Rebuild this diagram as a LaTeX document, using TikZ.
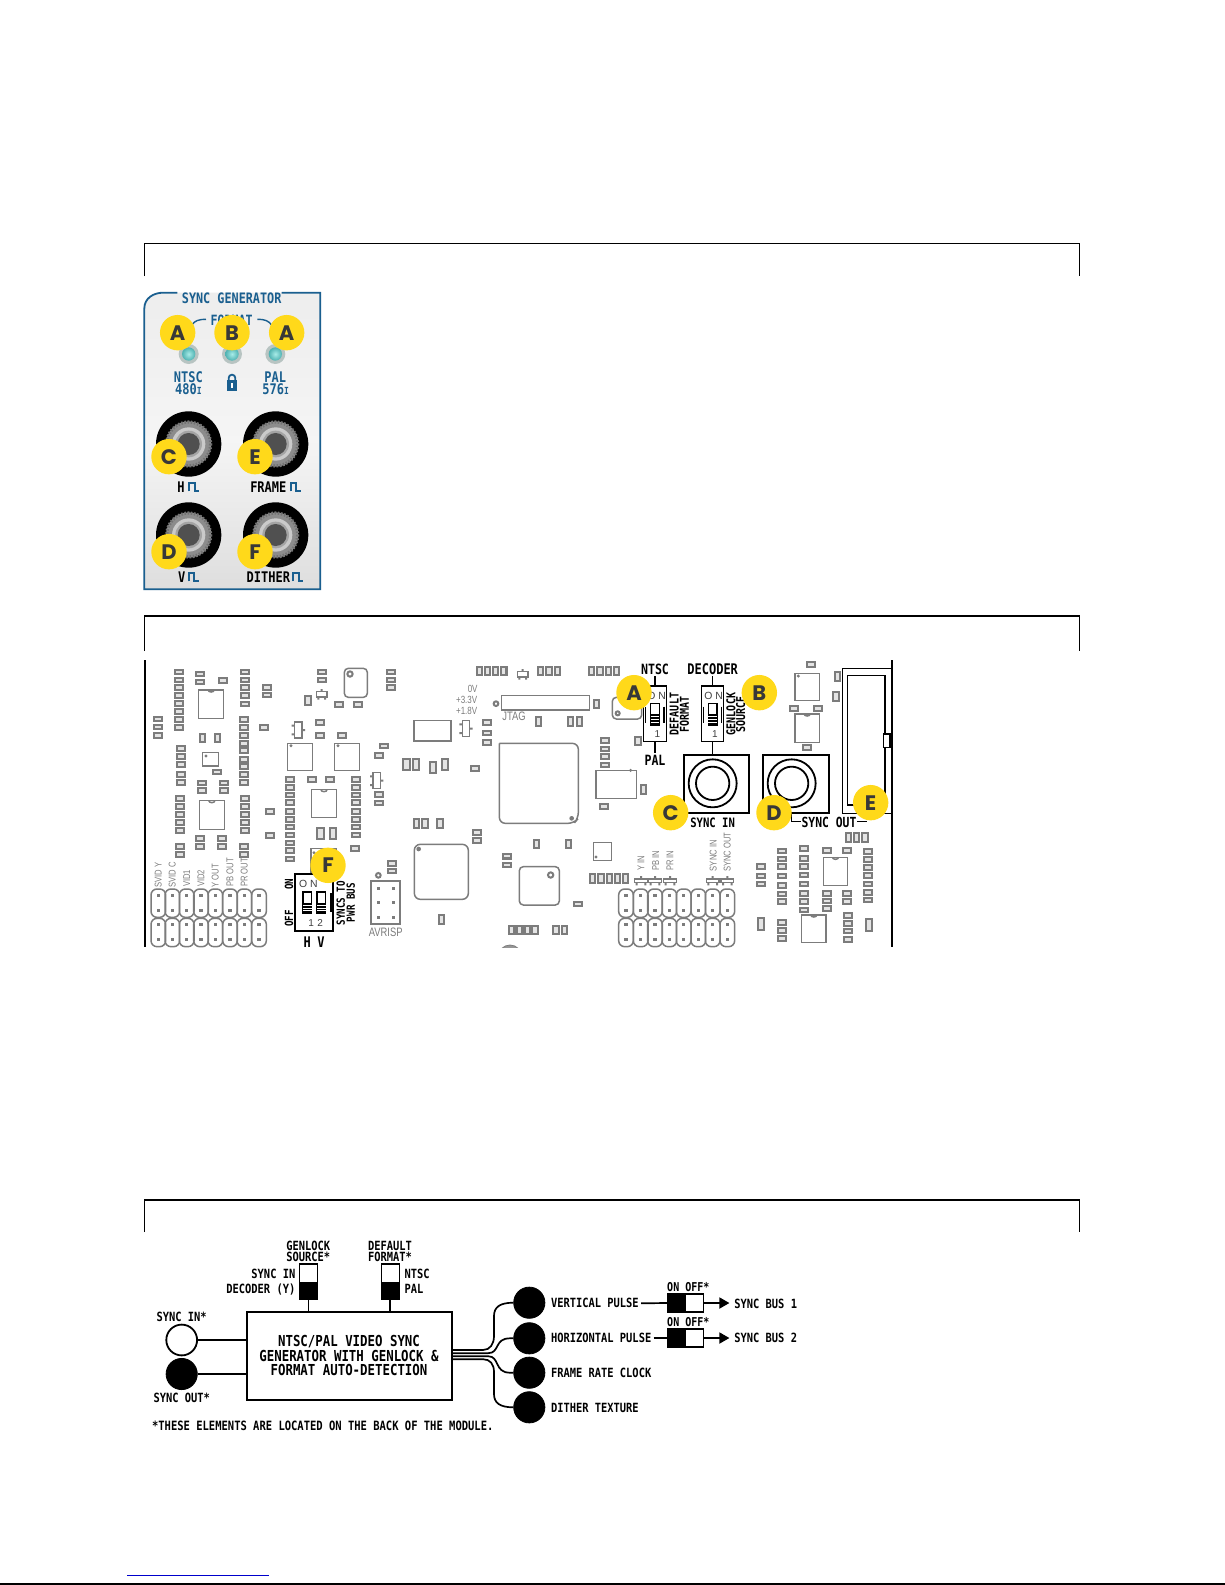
\documentclass[tikz,border=0pt]{standalone}
\usepackage{graphicx}
\usepackage{fontspec}
\setmonofont{DejaVu Sans Mono}
\setsansfont{Liberation Sans}
\newfontfamily\badgef{Poppins}
\usetikzlibrary{arrows.meta,shapes.geometric}
\definecolor{pcb}{HTML}{7C7C7C}
\definecolor{padfill}{HTML}{E4E4E4}
\definecolor{yel}{HTML}{FFD91A}
\definecolor{pblue}{HTML}{1A5F8F}
\newcommand\T[2]{\fontsize{#1pt}{#1pt}\selectfont\ttfamily\bfseries\scalebox{1}[1.22]{#2}}
\newcommand\G[2]{\fontsize{#1pt}{#1pt}\selectfont\sffamily\scalebox{1}[1.3]{#2}}
\newcommand\K[2]{\fontsize{#1pt}{#1pt}\selectfont\sffamily #2}
\newcommand\padsH[2]{\foreach \yy in {#2}{\draw[pad] (#1-12,\yy-7) rectangle (#1+12,\yy+7);}}
\newcommand\padsV[2]{\foreach \xx in {#1}{\draw[pad] (\xx-8,#2-13) rectangle (\xx+8,#2+13);}}
\newcommand\bigV[2]{\draw[pad] (#1-10,#2-17) rectangle (#1+10,#2+17);}
\newcommand\ic[4]{\draw[part] (#1,#2) rectangle (#3,#4);}
\newcommand\icN[4]{\draw[part] (#1,#2) rectangle (#3,#4); \draw[part] ({(#1+#3)/2-9},#2) arc (180:0:9 and 6);}
\newcommand\icD[6]{\draw[part] (#1,#2) rectangle (#3,#4); \fill[pcb] (#5,#6) circle (5);}
\newcommand\trs[2]{\draw[part,fill=white] (#1-16,#2-8) rectangle (#1+16,#2+8);
  \fill[pcb] (#1-3,#2-16) rectangle (#1+3,#2-8) (#1-13,#2+8) rectangle (#1-7,#2+16) (#1+7,#2+8) rectangle (#1+13,#2+16);}
\newcommand\trv[3]{\draw[part,fill=white] (#1-11,#2-24) rectangle (#1+11,#2+24);
  \fill[pcb] (#1+#3*11,#2-3) rectangle (#1+#3*20,#2+3) (#1-#3*11,#2-16) rectangle (#1-#3*20,#2-10) (#1-#3*11,#2+10) rectangle (#1-#3*20,#2+16);}
\newcommand\hdr[1]{\foreach \hx in {#1}{
  \draw[part,rounded corners=3pt] (\hx-22,837) rectangle (\hx+22,922);
  \draw[part,rounded corners=3pt] (\hx-22,925) rectangle (\hx+22,1010);
  \foreach \hy in {857,901,943,988}{\fill[pcb] (\hx-5,\hy-5) rectangle (\hx+5,\hy+5);}}}
\newcommand\dip[3]{% x, ytop, one toggle
  \draw[bk,fill=white] (#1-13,#2) rectangle (#1+13,#2+65);
  \fill[black] (#1-13,#2+32) rectangle (#1+13,#2+65);
  \foreach \s in {1,2,3}{\draw[white,line width=.3pt] (#1-13,#2+32+\s*8) -- (#1+13,#2+32+\s*8);}}
\newcommand\jack[2]{\fill[black] (#1,#2) circle (98);
  \fill[nutgray] (#1,#2) circle (68);
  \draw[nutdark,line width=1.6pt,dash pattern=on .8pt off .8pt] (#1,#2) circle (66);
  \fill[ringgray] (#1,#2) circle (50);
  \fill[midgray] (#1,#2) circle (40);
  \fill[coregray] (#1,#2) circle (33);}
\definecolor{nutgray}{HTML}{8C8C8C}
\definecolor{nutdark}{HTML}{727272}
\definecolor{ringgray}{HTML}{CACACA}
\definecolor{midgray}{HTML}{A4A4A4}
\definecolor{coregray}{HTML}{505050}
\definecolor{ledring}{HTML}{B8C4C2}
\definecolor{ledin}{HTML}{A8ECE8}
\definecolor{ledout}{HTML}{4FB2B2}
\newcommand\led[2]{\fill[ledring] (#1,#2) circle (30);
  \shade[inner color=ledin,outer color=ledout] (#1,#2) circle (20);}
\newcommand\pulse[2]{\draw[pblue,line width=1pt] (#1,#2+14) -- (#1,#2-12) -- (#1+16,#2-12) -- (#1+16,#2+14) -- (#1+30,#2+14);}
\tikzset{
  x=.5pt,y=-.5pt,
  pad/.style={draw=pcb,fill=padfill,line width=1pt},
  part/.style={draw=pcb,line width=.75pt},
  bk/.style={draw=black,line width=.7pt},
  badge/.style={circle,fill=yel,minimum size=17.7pt,inner sep=0pt,text=black!78,font=\badgef\bfseries\fontsize{10.5pt}{10.5pt}\selectfont},
  lbl/.style={inner sep=0pt},
  frameline/.style={draw=black,line width=.7pt},
  wire/.style={draw=black,line width=.85pt},
  blk/.style={circle,fill=black,draw=black,minimum size=15.6pt,inner sep=0pt},
  sw/.style={draw=black,line width=.8pt,fill=white,inner sep=0pt},
}
\begin{document}
\begin{tikzpicture}
\useasboundingbox (0,0) rectangle (1225,1585);
\fill[white] (0,0) rectangle (1225,1585);
% section frames
\draw[frameline] (144.5,276) -- (144.5,243.5) -- (1079.5,243.5) -- (1079.5,276);
\draw[frameline] (144.5,651) -- (144.5,616) -- (1079.5,616) -- (1079.5,651);
\draw[frameline] (144.5,1232) -- (144.5,1200) -- (1079.5,1200) -- (1079.5,1232);
% footer
\draw[draw={rgb,255:red,0;green,0;blue,204},line width=.6pt] (127,1575.5) -- (268.7,1575.5);
\draw[black,line width=1pt] (0,1584.2) -- (1225,1584.2);

%=================== front panel
\begin{scope}[shift={(130,230)},scale=1/3]
\shade[top color=black!7,bottom color=black!13,middle color=black!4] (43,1078) -- (43,235) .. controls (43,205) and (70,188) .. (100,188) -- (571,188) -- (571,1078) -- cycle;
\draw[pblue,line width=.9pt] (455,188) -- (571,188) -- (571,1078) -- (43,1078) -- (43,235) .. controls (43,205) and (70,188) .. (100,188) -- (142,188);
\node[lbl,text=pblue] (ptitle) at (305,205) {\T{5.9}{SYNC GENERATOR}};
\node[lbl,text=pblue] (pformat) at (305,272) {\T{5.8}{FORMAT}};
\draw[pblue,line width=.7pt] (185,285) .. controls (195,272) and (205,268) .. (228,268);
\draw[pblue,line width=.7pt] (382,268) .. controls (405,268) and (415,272) .. (425,285);
\led{176}{372}\led{306}{372}\led{436}{372}
\node[lbl,text=pblue] (pntsc) at (175,440) {\T{6}{NTSC}};
\node[lbl,text=pblue] (p480) at (175,478) {\T{6}{480\fontsize{4pt}{4pt}\selectfont I}};
\node[lbl,text=pblue] (ppal) at (436,440) {\T{6}{PAL}};
\node[lbl,text=pblue] (p576) at (437,478) {\T{6}{576\fontsize{4pt}{4pt}\selectfont I}};
\draw[pblue,line width=.9pt] (296,452) -- (296,444) arc (180:360:10) -- (316,452);
\fill[pblue] (290,450) rectangle (322,483);
\fill[white] (304,460) rectangle (308,474);
\jack{176}{642}\jack{437}{642}\jack{176}{915}\jack{437}{915}
\node[lbl] (ph) at (153,770) {\T{6}{H}};
\pulse{178}{770}
\node[lbl] (pframe) at (415,770) {\T{6}{FRAME}};
\pulse{483}{770}
\node[lbl] (pv) at (155,1040) {\T{6}{V}};
\pulse{176}{1040}
\node[lbl] (pdither) at (415,1040) {\T{6}{DITHER}};
\pulse{490}{1040}
\node[badge] (pa1) at (143,308) {A};
\node[badge] (pb) at (306,308) {B};
\node[badge] (pa2) at (470,308) {A};
\node[badge] (pc) at (117,680) {C};
\node[badge] (pe) at (375,680) {E};
\node[badge] (pd) at (117,965) {D};
\node[badge] (pf) at (375,965) {F};
\end{scope}

%=================== board
\begin{scope}
\clip (140,655) rectangle (900,947);
\draw[black,line width=1pt] (144.7,660) -- (144.7,947);
\draw[black,line width=1pt] (891.7,660) -- (891.7,947);
% left half, coordinates of crop 2
\begin{scope}[shift={(130,610)},scale=1/3]
\padsH{147}{186,210,233,257,280,304,328,352}
\padsH{209}{192,216}
\padsH{278}{211}
\padsH{346}{186,210,233,257,282}
\padsH{342}{328,352,377,400,422,448,470,494,518}
\padsH{410}{232,255}
\padsH{401}{353}
\padsH{83}{327,351,376}
\icN{206}{240}{281}{325}
\padsV{218,262}{384}
\padsH{152}{415,440,463,493,518}
\icD{218}{428}{266}{468}{228}{438}
\padsH{260}{486}
\padsH{215}{519,542}\padsH{281}{519,542}
\padsH{149}{565,590,613,638,662}
\icN{208}{572}{283}{658}
\padsH{344}{566,590,614,638,662}
\padsH{211}{686,710}\padsH{277}{686,710}
\padsH{150}{709,733}
\padsH{342}{709,733}
\padsH{419}{604}\padsH{421}{677}
\padsH{575}{186,210}
\trs{575}{253}
\padsV{534}{272}
\draw[part,rounded corners=2pt] (643,175) rectangle (712,262);
\draw[part,line width=1pt] (660,192) circle (8);
\padsH{628}{284}\padsH{685}{284}
\padsH{782}{186,210,233}
\padsH{569}{338,376}\padsH{637}{376}
\trv{505}{360}{1}
\icD{473}{400}{547}{482}{483}{407}
\icD{614}{400}{688}{482}{624}{407}
\padsH{761}{408}\padsH{747}{437}
\padsH{479}{508,532,555,578,604,628,651,675,699,722,747}
\padsH{546}{508}\padsH{601}{508}
\padsH{678}{508,532,555,578,604,628,651,675}
\icN{545}{539}{619}{622}
\bigV{572}{670}\bigV{609}{670}
\padsH{674}{716}
\trv{740}{512}{1}
\padsH{747}{554,579}
\ic{852}{332}{963}{393}
\trv{1008}{356}{1}
\padsH{1072}{338,369,398}
\bigV{829}{463}\bigV{858}{463}\bigV{909}{472}\bigV{945}{464}
\padsH{1035}{475}
\padsV{859,885,930}{640}
\padsH{1042}{667,691}
\draw[part,rounded corners=3pt] (853,703) rectangle (1015,868);
\fill[pcb] (866,717) circle (7);
\padsH{785}{760,783}
\draw[part,line width=1pt] (745,796) circle (7);
\draw[part,line width=1pt] (723,812) rectangle (811,943);
\foreach \ax in {745,790}{\foreach \ay in {835,878,922}{\fill[pcb] (\ax-5,\ay-5) rectangle (\ax+5,\ay+5);}}
\node[lbl,text=pcb] (avrisp) at (767,967) {\G{4.7}{AVRISP}};
\padsV{935}{928}
\padsH{1132}{739,765}
\padsV{1048,1072,1096,1122}{183}
\padsV{1148,1170,1190}{960}
\node[lbl,text=pcb] (v0) at (1028,238) {\G{4}{0V}};
\node[lbl,text=pcb] (v33) at (1010,271) {\G{4}{+3.3V}};
\node[lbl,text=pcb] (v18) at (1010,303) {\G{4}{+1.8V}};
\draw[part,line width=1pt] (1098,281) circle (7);
\node[lbl,text=pcb] (svidy) at (85,795) [rotate=90] {\G{3.8}{SVID Y}};
\node[lbl,text=pcb] (svidc) at (127,795) [rotate=90] {\G{3.8}{SVID C}};
\node[lbl,text=pcb] (vid1) at (170,805) [rotate=90] {\G{3.8}{VID1}};
\node[lbl,text=pcb] (vid2) at (213,805) [rotate=90] {\G{3.8}{VID2}};
\node[lbl,text=pcb] (yout) at (256,797) [rotate=90] {\G{3.8}{Y OUT}};
\node[lbl,text=pcb] (pbout) at (300,787) [rotate=90] {\G{3.8}{PB OUT}};
\node[lbl,text=pcb] (prout) at (343,787) [rotate=90] {\G{3.8}{PR OUT}};
\hdr{85,127,170,213,256,300,343,387}
% dip switch F
\icD{543}{716}{618}{790}{552}{728}
\draw[bk,fill=white,line width=.9pt] (495,793) rectangle (610,962);
\draw[bk] (497,850) -- (497,905) (603,850) -- (603,905);
\node[lbl,text=black!75] (don) at (535,823) {\K{5.2}{O N}};
\dip{532}{846}{}\dip{574}{846}{}
\node[lbl,text=black!75] (d12) at (557,938) {\K{5}{1\,\,2}};
\node[lbl] (hon) at (477,823) [rotate=90] {\T{4.6}{ON}};
\node[lbl] (hoff) at (477,925) [rotate=90] {\T{4.6}{OFF}};
\node[lbl] (syncsto) at (632,880) [rotate=90] {\T{4.6}{SYNCS TO}};
\node[lbl] (pwrbus) at (662,878) [rotate=90] {\T{4.6}{PWR BUS}};
\node[lbl] (hh) at (532,995) {\T{6}{H}};
\node[lbl] (hv) at (573,995) {\T{6}{V}};
\node[badge] (bf) at (594,766) {F};
\end{scope}
% right half, coordinates of crop 3
\begin{scope}[shift={(500,610)},scale=1/3]
\trs{68}{193}
\padsV{122,147,172,275,300,325,350,10}{183}
\draw[part,line width=.8pt] (5,256) rectangle (268,300);
\padsV{289}{282}
\node[lbl,text=pcb] (jtag) at (42,320) {\G{4.7}{JTAG}};
\padsV{116,212,238}{335}
\draw[part,rounded corners=2pt] (337,262) rectangle (425,327);
\draw[part,line width=1pt] (353,310) circle (6);
\draw[part,rounded corners=3pt] (-2,400) -- (235,400) -- (235,625) -- (222,640) -- (-2,640) -- (-2,400);
\fill[pcb] (215,625) circle (7);
\padsH{316}{392,417,440,465}
\icD{288}{481}{410}{566}{392}{481}
\padsV{430}{538}\padsV{414}{393}
\padsH{313}{590}
\padsV{110,205}{702}
\icD{280}{698}{335}{752}{288}{741}
\padsH{235}{882}
\padsH{20}{738,765}
\draw[part,rounded corners=2pt] (58,770) rectangle (178,885);
\draw[part,line width=1pt] (152,795) circle (8);
\padsV{278,303,328,352,376}{805}
\foreach \tx in {423,465,510,638,682}{
  \draw[part,fill=white] (\tx-19,807) rectangle (\tx+19,818);
  \fill[pcb] (\tx-3,798) rectangle (\tx+3,807) (\tx-16,818) rectangle (\tx-10,826) (\tx+10,818) rectangle (\tx+16,826);}
\node[lbl,text=pcb] (yin) at (423,760) [rotate=90] {\G{3.8}{Y IN}};
\node[lbl,text=pcb] (pbin) at (467,752) [rotate=90] {\G{3.8}{PB IN}};
\node[lbl,text=pcb] (prin) at (510,752) [rotate=90] {\G{3.8}{PR IN}};
\node[lbl,text=pcb] (syncin2) at (640,737) [rotate=90] {\G{3.8}{SYNC IN}};
\node[lbl,text=pcb] (syncout2) at (682,726) [rotate=90] {\G{3.8}{SYNC OUT}};
\hdr{378,422,465,508,551,595,638,682}
\padsV{35,58,82,105,168,193}{960}
\draw[pcb,fill=pcb!80] (30,1040) circle (35);
\padsH{933}{163}
\icD{885}{190}{958}{272}{895}{198}
\padsH{883}{295}\padsH{954}{295}
\icN{885}{312}{958}{398}
\padsH{920}{412}
\padsV{1012}{200}\padsV{1008}{260}
\padsH{845}{723,747,770,798,827,852,875}
\padsH{912}{716,745,770,795,822,850,875,900}
\padsH{783}{770,798,822}
\padsH{980}{722,850,873,895}
\padsH{1040}{722,850,875}
\icN{970}{742}{1043}{826}
\padsH{1105}{725,748,772,797,822,847,870}
\icN{905}{915}{978}{998}
\padsH{845}{938,962,985}
\bigV{783}{942}\bigV{1107}{945}
\padsH{1045}{917,940,963,988}
\padsV{1045,1070,1095}{682}
% black outlines
\draw[bk,line width=.8pt] (1028,176) rectangle (1175,610);
\draw[bk,line width=.8pt] (1043,197) rectangle (1155,585);
\draw[bk,fill=white] (1150,372) rectangle (1170,412);
\draw[bk] (465,198) -- (465,228) (465,395) -- (465,430);
\draw[bk,fill=white,line width=.8pt] (431,228) rectangle (499,395);
\draw[bk] (437,290) -- (437,338) (492,290) -- (492,338);
\dip{465}{280}{}
\node[lbl,text=black!75] (ona) at (470,258) {\K{5.2}{O N}};
\node[lbl,text=black!75] (onea) at (472,373) {\K{5}{1}};
\node[lbl] (ntsc) at (465,178) {\T{5.8}{NTSC}};
\node[lbl] (pal) at (465,452) {\T{5.8}{PAL}};
\node[lbl] (deflt) at (523,312) [rotate=90] {\T{5}{DEFAULT}};
\node[lbl] (fmt) at (553,314) [rotate=90] {\T{5}{FORMAT}};
\draw[bk] (638,198) -- (638,228) (638,395) -- (638,436);
\draw[bk,fill=white,line width=.8pt] (604,228) rectangle (670,395);
\draw[bk] (610,290) -- (610,338) (665,290) -- (665,338);
\dip{638}{280}{}
\node[lbl,text=black!75] (onb) at (641,258) {\K{5.2}{O N}};
\node[lbl,text=black!75] (oneb) at (645,373) {\K{5}{1}};
\node[lbl] (decoder) at (638,178) {\T{6}{DECODER}};
\node[lbl] (genlock) at (693,312) [rotate=90] {\T{5}{GENLOCK}};
\node[lbl] (source) at (722,314) [rotate=90] {\T{5}{SOURCE}};
\draw[bk,line width=.9pt] (552,436) rectangle (747,608);
\draw[bk,line width=.9pt] (638,520) circle (72) (638,520) circle (50);
\draw[bk,line width=.9pt] (790,436) rectangle (986,608);
\draw[bk,line width=.9pt] (875,520) circle (72) (875,520) circle (50);
\node[lbl] (syncinb) at (638,637) {\T{5.3}{SYNC IN}};
\node[lbl] (syncoutb) at (987,637) {\T{5.7}{SYNC OUT}};
\draw[bk] (875,610) -- (875,635) -- (903,635) (1071,635) -- (1100,635);
\node[badge] (ba) at (402,248) {A};
\node[badge] (bb) at (778,248) {B};
\node[badge] (bc) at (512,608) {C};
\node[badge] (bd) at (822,608) {D};
\node[badge] (be) at (1112,578) {E};
\end{scope}
\end{scope}

%=================== block diagram
\node[draw=black,line width=1pt,minimum width=102.5pt,minimum height=43.8pt,inner sep=0pt] (box) at (349.2,1356.2) {};
\node[lbl] (bt1) at (349,1341.7) {\T{6.2}{NTSC/PAL VIDEO SYNC}};
\node[lbl] (bt2) at (349,1355.7) {\T{6.2}{GENERATOR WITH GENLOCK \&}};
\node[lbl] (bt3) at (349,1370) {\T{6.2}{FORMAT AUTO-DETECTION}};
\node[lbl] (gl1) at (308.3,1245.7) {\T{5.2}{GENLOCK}};
\node[lbl] (gl2) at (308.3,1257.3) {\T{5.2}{SOURCE*}};
\node[lbl] (df1) at (390,1245.7) {\T{5.2}{DEFAULT}};
\node[lbl] (df2) at (390,1257.3) {\T{5.2}{FORMAT*}};
\node[sw,minimum width=9pt,minimum height=17.6pt,path picture={\fill[black] (path picture bounding box.south west) rectangle (path picture bounding box.east);}] (swg) at (308.5,1281.7) {};
\node[sw,minimum width=9pt,minimum height=17.6pt,path picture={\fill[black] (path picture bounding box.south west) rectangle (path picture bounding box.east);}] (swf) at (390.3,1281.7) {};
\draw[wire] (swg.south) -- (swg.south |- box.north);
\draw[wire] (swf.south) -- (swf.south |- box.north);
\node[lbl,anchor=east] (lsi) at (295.7,1274.3) {\T{5.2}{SYNC IN}};
\node[lbl,anchor=east] (ldy) at (295.7,1289.3) {\T{5.2}{DECODER (Y)}};
\node[lbl,anchor=west] (lnt) at (404.3,1274.3) {\T{5.2}{NTSC}};
\node[lbl,anchor=west] (lpa) at (404.3,1289.3) {\T{5.2}{PAL}};
\node[circle,draw=black,line width=.9pt,fill=white,minimum size=15.4pt,inner sep=0pt] (sin) at (181.7,1340) {};
\node[blk] (sout) at (181.7,1374) {};
\draw[wire] (sin.east) -- (sin.east -| box.west);
\draw[wire] (sout.east) -- (sout.east -| box.west);
\node[lbl] (lsin) at (181.7,1317) {\T{5.2}{SYNC IN*}};
\node[lbl] (lsout) at (181.7,1398.3) {\T{5.2}{SYNC OUT*}};
\node[lbl,anchor=west] (note) at (151.7,1426) {\T{5.25}{*THESE ELEMENTS ARE LOCATED ON THE BACK OF THE MODULE.}};
\node[blk] (cv) at (529.3,1302.7) {};
\node[blk] (ch) at (529.3,1338.3) {};
\node[blk] (cf) at (529.3,1372.7) {};
\node[blk] (cd) at (529.3,1407.3) {};
\coordinate (o1) at (box.east |- 0,1350);
\coordinate (o2) at (box.east |- 0,1353.2);
\coordinate (o3) at (box.east |- 0,1356.2);
\coordinate (o4) at (box.east |- 0,1359.2);
\draw[wire] (o1) -- (483,1350) .. controls (490,1350) and (494,1344) .. (494,1336) -- (494,1316) .. controls (494,1307) and (500,1302.7) .. (cv.west);
\draw[wire] (o2) -- (488,1353.2) .. controls (500,1353.2) and (494,1338.3) .. (510,1338.3) -- (ch.west);
\draw[wire] (o3) -- (488,1356.2) .. controls (500,1356.2) and (494,1372.7) .. (510,1372.7) -- (cf.west);
\draw[wire] (o4) -- (483,1359.2) .. controls (490,1359.2) and (494,1364) .. (494,1372) -- (494,1394) .. controls (494,1403) and (500,1407.3) .. (cd.west);
\node[lbl,anchor=west] (lv) at (550.7,1303.3) {\T{5.2}{VERTICAL PULSE}};
\node[lbl,anchor=west] (lh) at (550.7,1338) {\T{5.2}{HORIZONTAL PULSE}};
\node[lbl,anchor=west] (lf) at (550.7,1373) {\T{5.2}{FRAME RATE CLOCK}};
\node[lbl,anchor=west] (ld) at (550.7,1408) {\T{5.2}{DITHER TEXTURE}};
\node[sw,minimum width=17.7pt,minimum height=8.8pt,path picture={\fill[black] (path picture bounding box.south west) rectangle (path picture bounding box.north);}] (sw1) at (685.7,1303) {};
\node[sw,minimum width=17.7pt,minimum height=8.8pt,path picture={\fill[black] (path picture bounding box.south west) rectangle (path picture bounding box.north);}] (sw2) at (685.7,1338) {};
\node[lbl] (on1) at (688.3,1287.3) {\T{5}{ON OFF*}};
\node[lbl] (on2) at (688.3,1322) {\T{5}{ON OFF*}};
\node[lbl,anchor=west] (bus1) at (734,1303.5) {\T{5.2}{SYNC BUS 1}};
\node[lbl,anchor=west] (bus2) at (734,1338.3) {\T{5.2}{SYNC BUS 2}};
\draw[wire,shorten <=1pt] (lv.east) -- (sw1.west);
\draw[wire,shorten <=1pt] (lh.east) -- (sw2.west);
\draw[wire,-{Triangle[length=5pt,width=5.5pt]},shorten >=2.3pt] (sw1.east) -- (bus1.west |- sw1.east);
\draw[wire,-{Triangle[length=5pt,width=5.5pt]},shorten >=2.3pt] (sw2.east) -- (bus2.west |- sw2.east);
\end{tikzpicture}
\end{document}
